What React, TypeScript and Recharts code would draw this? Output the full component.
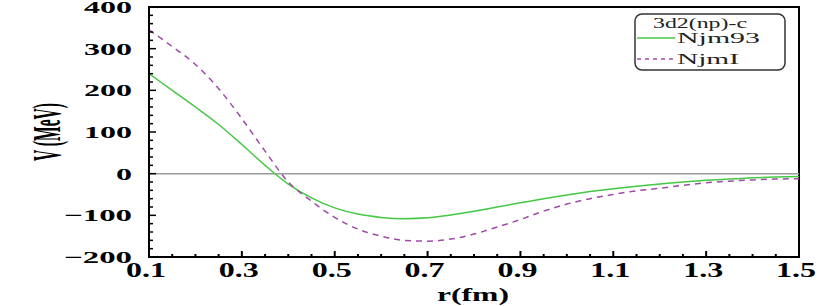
import React from "react";
import {
  LineChart,
  Line,
  XAxis,
  YAxis,
  ReferenceLine,
  ReferenceArea,
  Legend,
} from "recharts";

// r (fm) sample points
const rValues = [
  0.1, 0.15, 0.2, 0.25, 0.3, 0.35, 0.4, 0.45, 0.5, 0.55, 0.6, 0.65, 0.7, 0.75,
  0.8, 0.85, 0.9, 0.95, 1.0, 1.05, 1.1, 1.15, 1.2, 1.25, 1.3, 1.35, 1.4, 1.45,
  1.5,
];

// V (MeV) for Njm93 (solid green)
const njm93 = [
  240, 200, 160, 118, 70, 20, -25, -58, -82, -97, -105, -108, -106, -99, -90,
  -80, -70, -60, -51, -43, -36, -30, -25, -20, -16, -13, -10, -8, -7,
];

// V (MeV) for NjmI (dashed purple)
const njmI = [
  345, 305, 262, 204, 132, 54, -20, -66, -105, -133, -150, -160, -162, -157,
  -145, -128, -110, -90, -73, -60, -50, -41, -35, -28, -22, -18, -15, -13, -12,
];

const xTicks = [
  0.1, 0.15, 0.2, 0.25, 0.3, 0.35, 0.4, 0.45, 0.5, 0.55, 0.6, 0.65, 0.7, 0.75,
  0.8, 0.85, 0.9, 0.95, 1.0, 1.05, 1.1, 1.15, 1.2, 1.25, 1.3, 1.35, 1.4, 1.45,
  1.5,
];
const xMajor = [0.1, 0.3, 0.5, 0.7, 0.9, 1.1, 1.3, 1.5];

const yTicks = [
  -200, -180, -160, -140, -120, -100, -80, -60, -40, -20, 0, 20, 40, 60, 80,
  100, 120, 140, 160, 180, 200, 220, 240, 260, 280, 300, 320, 340, 360, 380,
  400,
];

const legendTitle = "3d2(np)-c";
const xTitle = "r(fm)";
const yTitle = "V (MeV)";

const data = rValues.map((r, i) => ({ r, njm93: njm93[i], njmI: njmI[i] }));

const FONT = "'Liberation Serif', 'Times New Roman', Times, serif";

// the reference glyphs are stretched horizontally, mimic with textLength
function stretchedWidth(s: string) {
  let w = 0;
  for (const ch of s) w += ch === "." ? 8 : ch === "-" ? 20 : 16;
  return w;
}

function XTick(props: any) {
  const { x, y, payload } = props;
  const v = payload.value;
  const major = xMajor.some((m) => Math.abs(m - v) < 1e-6);
  const label = v.toFixed(1);
  return (
    <g>
      <line
        x1={x}
        x2={x}
        y1={y}
        y2={y - (major ? 6 : 3)}
        stroke="#000"
        strokeWidth={2}
      />
      {major && (
        <text
          x={x - 3}
          y={y + 20}
          textAnchor="middle"
          style={{ fontFamily: FONT, fontWeight: 700, fontSize: 20 }}
          fill="#000"
          textLength={stretchedWidth(label)}
          lengthAdjust="spacingAndGlyphs"
        >
          {label}
        </text>
      )}
    </g>
  );
}

function YTick(props: any) {
  const { x, y, payload } = props;
  const v = payload.value;
  const major = v % 100 === 0;
  const label = v < 0 ? "\u2212" + Math.abs(v) : String(v);
  return (
    <g>
      <line
        x1={x}
        x2={x + (major ? 7 : 4)}
        y1={y}
        y2={y}
        stroke="#000"
        strokeWidth={1.5}
      />
      {major && (
        <text
          x={x - 17}
          y={y + 6}
          textAnchor="end"
          style={{ fontFamily: FONT, fontWeight: 700, fontSize: 17 }}
          fill="#000"
          textLength={stretchedWidth(label.replace("\u2212", "-"))}
          lengthAdjust="spacingAndGlyphs"
        >
          {label}
        </text>
      )}
    </g>
  );
}

function LegendBox(props: any) {
  const payload = props.payload || [];
  return (
    <svg width={153} height={59} style={{ display: "block" }}>
      <rect
        x={1}
        y={1}
        width={150}
        height={56}
        rx={7}
        fill="#fff"
        stroke="#333"
        strokeWidth={1.5}
      />
      <text
        x={66}
        y={15}
        textAnchor="middle"
        style={{ fontFamily: FONT, fontSize: 14 }}
        fill="#222"
        textLength={94}
        lengthAdjust="spacingAndGlyphs"
      >
        {legendTitle}
      </text>
      {payload.map((entry: any, i: number) => {
        const ly = 25 + i * 21;
        const dashed = entry.payload && entry.payload.strokeDasharray;
        const w = entry.value === "Njm93" ? 83 : 62;
        return (
          <g key={entry.value}>
            <line
              x1={3}
              x2={41}
              y1={ly}
              y2={ly}
              stroke={entry.color}
              strokeWidth={1.5}
              strokeDasharray={dashed ? "4 4" : undefined}
            />
            <text
              x={43}
              y={ly + 5}
              style={{ fontFamily: FONT, fontSize: 15 }}
              fill="#222"
              textLength={w}
              lengthAdjust="spacingAndGlyphs"
            >
              {entry.value}
            </text>
          </g>
        );
      })}
    </svg>
  );
}

export default function App() {
  return (
    <div
      style={{
        position: "absolute",
        left: 0,
        top: 0,
        width: 830,
        height: 306,
        background: "#fff",
      }}
    >
      <LineChart
        width={830}
        height={306}
        data={data}
        margin={{ top: 7, right: 31, bottom: 2, left: 0 }}
      >
        <XAxis
          dataKey="r"
          type="number"
          domain={[0.1, 1.5]}
          ticks={xTicks}
          interval={0}
          allowDataOverflow
          height={47}
          tickLine={false}
          tickSize={0}
          tickMargin={0}
          tick={<XTick />}
          axisLine={{ stroke: "#000", strokeWidth: 2 }}
        />
        <YAxis
          type="number"
          domain={[-200, 400]}
          ticks={yTicks}
          interval={0}
          allowDataOverflow
          width={149}
          tickLine={false}
          tickSize={0}
          tickMargin={0}
          tick={<YTick />}
          axisLine={{ stroke: "#000", strokeWidth: 2 }}
        />
        <ReferenceLine y={0} stroke="#9a9a9a" strokeWidth={1.5} />
        <ReferenceArea
          x1={0.1}
          x2={1.5}
          y1={-200}
          y2={400}
          fill="none"
          fillOpacity={0}
          stroke="#000"
          strokeWidth={2}
        />
        <Legend
          layout="vertical"
          align="center"
          verticalAlign="middle"
          wrapperStyle={{ position: "absolute", left: 634, top: 13, width: 153 }}
          content={<LegendBox />}
        />
        <Line
          dataKey="njm93"
          name="Njm93"
          type="monotone"
          stroke="#44c844"
          strokeWidth={1.5}
          dot={false}
          isAnimationActive={false}
        />
        <Line
          dataKey="njmI"
          name="NjmI"
          type="monotone"
          stroke="#a04aa8"
          strokeWidth={1.5}
          strokeDasharray="6 5"
          dot={false}
          isAnimationActive={false}
        />
      </LineChart>
      {/* axis titles, squashed like the reference */}
      <svg
        width={830}
        height={306}
        style={{ position: "absolute", left: 0, top: 0, pointerEvents: "none" }}
      >
        <text
          transform="translate(46,132) rotate(-90)"
          x={0}
          y={0}
          textAnchor="middle"
          dominantBaseline="central"
          style={{ fontFamily: FONT, fontWeight: 700, fontSize: 40 }}
          fill="#000"
          textLength={58}
          lengthAdjust="spacingAndGlyphs"
        >
          {yTitle}
        </text>
        <text
          x={473}
          y={301}
          textAnchor="middle"
          style={{ fontFamily: FONT, fontWeight: 700, fontSize: 19 }}
          fill="#000"
          textLength={72}
          lengthAdjust="spacingAndGlyphs"
        >
          {xTitle}
        </text>
      </svg>
    </div>
  );
}
